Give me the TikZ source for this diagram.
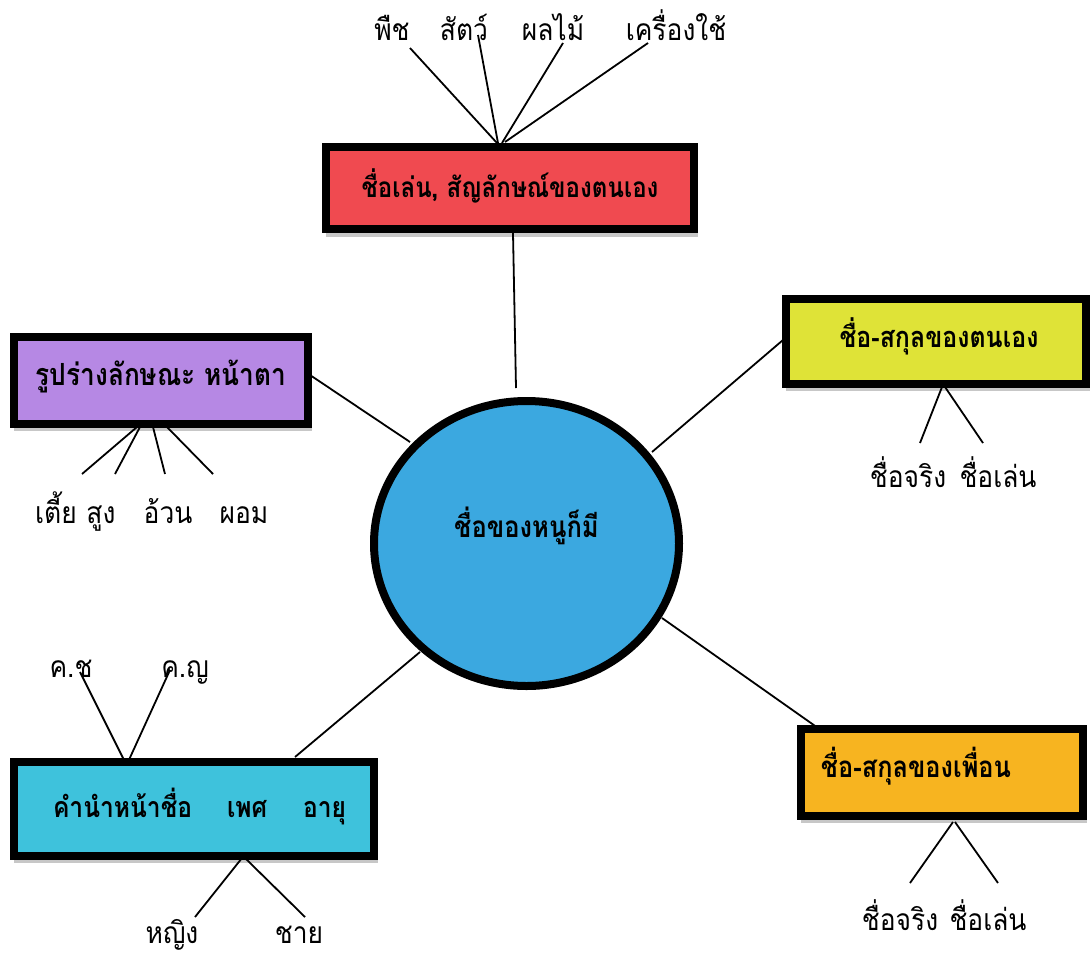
\documentclass[tikz,border=0pt]{standalone}
\usepackage{fontspec}
\newfontfamily\boxfont[Script=Thai,FakeStretch=0.86]{Loma}
\newfontfamily\labfont[Script=Thai,FakeStretch=0.88]{Loma}
\usetikzlibrary{shapes.geometric}
\definecolor{cred}{HTML}{F04A50}
\definecolor{cpurple}{HTML}{B688E4}
\definecolor{cyellow}{HTML}{DFE337}
\definecolor{corange}{HTML}{F7B420}
\definecolor{ccyan}{HTML}{3EC2DC}
\definecolor{ccircle}{HTML}{3BA8E0}
\tikzset{
  box/.style={draw=black, line width=8pt, rectangle, inner sep=0pt, font=\boxfont\bfseries\fontsize{#1}{#1}\selectfont},
  lab/.style={inner sep=0pt, anchor=base, font=\labfont\fontsize{30}{32}\selectfont},
  spoke/.style={draw=black, line width=1.8pt},
  shade/.style={fill=black!22, draw=none}
}
\begin{document}
\begin{tikzpicture}[x=1pt,y=-1pt]
\useasboundingbox[fill=white] (0,0) rectangle (1092,956);
% shadows
\fill[shade] (326,231) rectangle (698,237);
\fill[shade] (14,426) rectangle (312,431);
\fill[shade] (786,386) rectangle (1090,391);
\fill[shade] (801,818) rectangle (1087,823);
\fill[shade] (14,858) rectangle (378,863);
% boxes
\node[box=28, fill=cred, minimum width=368pt, minimum height=82pt, text height=18pt, text depth=0pt] (red) at (510,188) {ชื่อเล่น, สัญลักษณ์ของตนเอง};
\node[box=30.5, fill=cpurple, minimum width=294pt, minimum height=87pt, text height=9pt, text depth=0pt] (purple) at (161,380.5) {รูปร่างลักษณะ หน้าตา};
\node[box=29, fill=cyellow, minimum width=300pt, minimum height=85pt, text height=11pt, text depth=0pt] (yellow) at (936,341.5) {\hspace*{6pt}ชื่อ-สกุลของตนเอง};
\node[box=29.5, fill=corange, minimum width=282pt, minimum height=87pt, text height=9pt, text depth=0pt] (orange) at (942,772.5) {\hspace*{-52pt}ชื่อ-สกุลของเพื่อน};
\node[box=28.6, fill=ccyan, minimum width=360pt, minimum height=94pt, text height=16pt, text depth=0pt] (cyan) at (194,809) {\hspace*{12pt}\makebox[174pt][l]{คำนำหน้าชื่อ}\makebox[76pt][l]{เพศ}\makebox[44pt][l]{อายุ}};
\node[box=29.7, ellipse, fill=ccircle, minimum width=305pt, minimum height=285pt, text height=0pt, text depth=13pt] (circ) at (526.5,543.5) {ชื่อของหนูก็มี};
% labels
\node[lab] (phuet) at (392,40) {พืช};
\node[lab] (sat) at (464,40) {สัตว์};
\node[lab] (phonlamai) at (553,40) {ผลไม้};
\node[lab] (khrueang) at (676,40) {เครื่องใช้};
\node[lab] (tia) at (56,523) {เตี้ย};
\node[lab] (sung) at (101,523) {สูง};
\node[lab] (uan) at (168,523) {อ้วน};
\node[lab] (phom) at (244,523) {ผอม};
\node[lab] (yjing) at (908,487) {ชื่อจริง};
\node[lab] (ylen) at (998,487) {ชื่อเล่น};
\node[lab] (ojing) at (900,930) {ชื่อจริง};
\node[lab] (olen) at (988,930) {ชื่อเล่น};
\node[lab] (khoch) at (71,677) {ค.ช};
\node[lab] (khoy) at (185,677) {ค.ญ};
\node[lab] (ying) at (172,943) {หญิง};
\node[lab] (chai) at (299,943) {ชาย};
% connector end points
\coordinate (r1) at (410,48);
\coordinate (r2) at (478,35);
\coordinate (r3) at (563,43);
\coordinate (r4) at (648,43);
\coordinate (rt1) at (497,143);
\coordinate (rt2) at (498,143);
\coordinate (rt3) at (502,143);
\coordinate (rt4) at (505,142);
\coordinate (rb) at (513,233);
\coordinate (ct) at (516,388);
\coordinate (pe) at (307,373);
\coordinate (cp) at (410,442);
\coordinate (yw) at (783,340);
\coordinate (cy) at (652,452);
\coordinate (ow) at (818,728);
\coordinate (co) at (662,618);
\coordinate (cn) at (295,757);
\coordinate (cc) at (420,652);
\coordinate (p1) at (82,474);
\coordinate (p2) at (115,474);
\coordinate (p3) at (165,474);
\coordinate (p4) at (213,474);
\coordinate (pb1) at (137,427);
\coordinate (pb2) at (140,427);
\coordinate (pb3) at (153,427);
\coordinate (pb4) at (167,427);
\coordinate (y1) at (920,443);
\coordinate (y2) at (983,443);
\coordinate (yb1) at (942,387);
\coordinate (yb2) at (945,387);
\coordinate (o1) at (910,883);
\coordinate (o2) at (998,883);
\coordinate (ob1) at (953,822);
\coordinate (ob2) at (955,822);
\coordinate (k1) at (80,672);
\coordinate (k2) at (170,670);
\coordinate (kt1) at (125,762);
\coordinate (kt2) at (128,762);
\coordinate (s1) at (195,917);
\coordinate (s2) at (305,917);
\coordinate (sb1) at (242,858);
\coordinate (sb2) at (245,858);
% connectors
\draw[spoke] (r1) -- (rt1);
\draw[spoke] (r2) -- (rt2);
\draw[spoke] (r3) -- (rt3);
\draw[spoke] (r4) -- (rt4);
\draw[spoke] (rb) -- (ct);
\draw[spoke] (pe) -- (cp);
\draw[spoke] (yw) -- (cy);
\draw[spoke] (ow) -- (co);
\draw[spoke] (cn) -- (cc);
\draw[spoke] (p1) -- (pb1);
\draw[spoke] (p2) -- (pb2);
\draw[spoke] (p3) -- (pb3);
\draw[spoke] (p4) -- (pb4);
\draw[spoke] (y1) -- (yb1);
\draw[spoke] (y2) -- (yb2);
\draw[spoke] (o1) -- (ob1);
\draw[spoke] (o2) -- (ob2);
\draw[spoke] (k1) -- (kt1);
\draw[spoke] (k2) -- (kt2);
\draw[spoke] (s1) -- (sb1);
\draw[spoke] (s2) -- (sb2);
\end{tikzpicture}
\end{document}
